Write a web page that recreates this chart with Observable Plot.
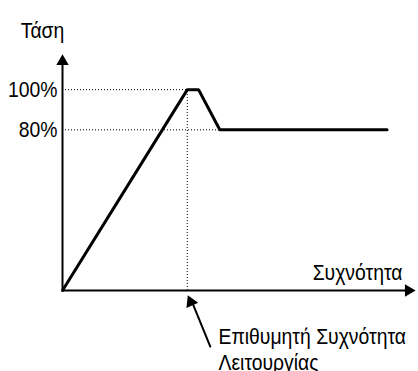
<!DOCTYPE html>
<html>
<head>
<meta charset="utf-8">
<script src="https://cdn.jsdelivr.net/npm/d3@7"></script>
<script src="https://cdn.jsdelivr.net/npm/@observablehq/plot@0.6"></script>
<style>
  html, body { margin: 0; padding: 0; background: #fff; }
</style>
</head>
<body>
<div id="chart"></div>
<script>
// Data (x: frequency as fraction of target frequency, y: voltage %)
const freq = [0, 1.0, 1.09, 1.26, 2.6];
const volt = [0, 100, 100, 80, 80];
const yTicks = [100, 80];
const yTickLabels = ["100%", "80%"];
const xMax = 2.82;
const yMax = 117;
const yLabel = "Τάση";
const xLabel = "Συχνότητα";
const targetFreq = 1.0;
const annotationText = "Επιθυμητή Συχνότητα\nΛειτουργίας";
const annotationTail = {x: 1.184, y: -27.9};
const annotationTextPos = {x: 1.25, y: -17.5};

const FONT = "'Liberation Sans', Arial, sans-serif";
const curve = freq.map((f, i) => ({f, v: volt[i]}));

const chart = Plot.plot({
  width: 418,
  height: 371,
  margin: 0,
  x: {domain: [0, xMax], range: [62, 414], axis: null},
  y: {domain: [0, yMax], range: [290, 55], axis: null},
  style: {background: "white", fontFamily: FONT},
  marks: [
    // dotted guides
    Plot.ruleY([100], {x1: 0, x2: targetFreq, stroke: "black", strokeWidth: 1, strokeDasharray: "1,2"}),
    Plot.ruleY([80], {x1: 0, x2: freq[3], stroke: "black", strokeWidth: 1, strokeDasharray: "1,2"}),
    Plot.ruleX([targetFreq], {y1: 0, y2: 100, stroke: "black", strokeWidth: 1, strokeDasharray: "1,2"}),
    // axes
    Plot.ruleX([0], {y1: 0, y2: yMax * 0.96, stroke: "black", strokeWidth: 2}),
    Plot.ruleY([0], {x1: 0, x2: xMax * 0.98, stroke: "black", strokeWidth: 2}),
    Plot.dot([{x: 0, y: yMax}], {x: "x", y: "y", symbol: "triangle", r: 4.6, fill: "black", stroke: null, dy: 6}),
    Plot.dot([{x: xMax, y: 0}], {x: "x", y: "y", symbol: "triangle", r: 4.6, fill: "black", stroke: null, rotate: 90, dx: -6}),
    // curve
    Plot.line(curve, {x: "f", y: "v", stroke: "black", strokeWidth: 3, strokeLinejoin: "miter"}),
    // tick labels
    Plot.text(yTicks, {x: 0, y: d => d, text: (d, i) => yTickLabels[i], textAnchor: "end", dx: -5, fontSize: 22, fill: "black"}),
    // axis labels
    Plot.text([yLabel], {x: 0, y: yMax, text: d => d, dx: -20, dy: -18, lineAnchor: "bottom", fontSize: 22, fill: "black"}),
    Plot.text([xLabel], {x: xMax, y: 0, text: d => d, textAnchor: "end", dx: -12, dy: -11, lineAnchor: "bottom", fontSize: 22, fill: "black"}),
    // annotation arrow
    Plot.arrow([annotationTail], {x1: "x", y1: "y", x2: targetFreq, y2: 0, headLength: 0, insetEnd: 11, stroke: "black", strokeWidth: 2}),
    Plot.dot([{x: targetFreq, y: 0}], {x: "x", y: "y", symbol: "triangle", r: 4.8, fill: "black", stroke: null, rotate: -24, dx: 3.5, dy: 11.5}),
    Plot.text([annotationText], {x: annotationTextPos.x, y: annotationTextPos.y, text: d => d, textAnchor: "start", lineAnchor: "top", lineHeight: 1.18, fontSize: 22, fill: "black"})
  ]
});
// condense text horizontally (reference uses a narrow sans face)
chart.querySelectorAll("text").forEach(t => {
  const tr = t.getAttribute("transform") || "";
  t.setAttribute("transform", tr + " scale(0.88,1)");
});
document.getElementById("chart").appendChild(chart);
</script>
</body>
</html>
